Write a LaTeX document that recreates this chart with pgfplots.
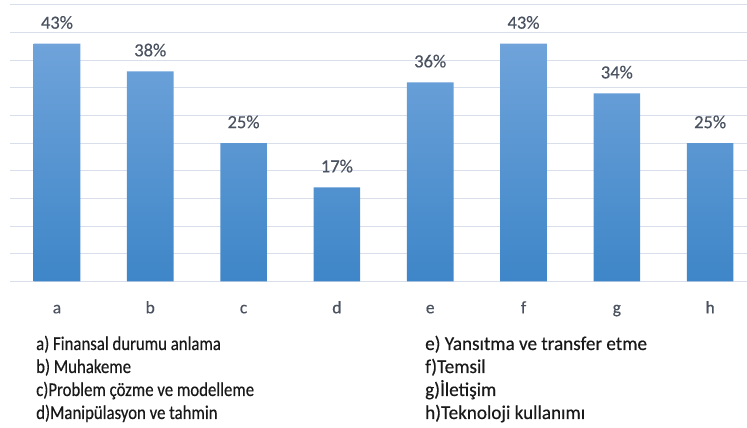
\documentclass[border=0pt]{standalone}
\usepackage{pgfplots}
\pgfplotsset{compat=1.18}
\usepackage{fontspec}
\setmainfont{Carlito}[FakeBold=0.3]
\newfontfamily\legfont[FakeStretch=0.86,FakeBold=0.4]{Carlito}
\newfontfamily\legfontr[FakeStretch=0.98,FakeBold=0.4]{Carlito}
\definecolor{gridc}{HTML}{D9DFEA}
\definecolor{bartop}{HTML}{6FA3DA}
\definecolor{barbot}{HTML}{3E86C8}
\definecolor{lblc}{HTML}{4A5260}
\definecolor{tickc}{HTML}{4A5260}
\begin{document}
\begin{tikzpicture}[x=1pt,y=1pt]
\useasboundingbox (0,0) rectangle (747,428);
\begin{axis}[
  at={(10.3pt,146.7pt)}, anchor=south west,
  scale only axis, width=736.7pt, height=276.3pt,
  xmin=-0.5, xmax=7.395, ymin=0, ymax=50,
  axis x line*=bottom, axis y line*=left,
  x axis line style={draw=gridc, line width=1pt, -},
  y axis line style={draw=none},
  ytick={0,5,...,50}, yticklabels={}, ymajorgrids, grid style={draw=gridc, line width=1pt},
  xtick={0,...,7}, xticklabels={a,b,c,d,e,f,g,h},
  major tick length=0pt,
  xticklabel style={font=\fontsize{17.5}{20}\selectfont, text=tickc, anchor=base, yshift=-32pt},
  /pgf/number format/assume math mode=true,
  clip=false,
]
\addplot[ybar, bar width=0.5, draw=none, top color=bartop, bottom color=barbot,
  nodes near coords={\pgfmathprintnumber{\pgfplotspointmeta}\%},
  every node near coord/.style={font=\fontsize{18.5}{20}\selectfont, text=lblc, anchor=base, inner sep=0pt, yshift=15pt}]
  coordinates {(0,43) (1,38) (2,25) (3,17) (4,36) (5,43) (6,34) (7,25)};
\end{axis}
\begin{scope}[every node/.style={anchor=base west, inner sep=0pt, font=\legfont\fontsize{19.5}{22}\selectfont, text=black!90}]
\node at (36,78) {a) Finansal durumu anlama};
\node at (36,55) {b) Muhakeme};
\node at (36,32) {c)Problem çözme ve modelleme};
\node at (36,9) {d)Manipülasyon ve tahmin};
\end{scope}
\begin{scope}[every node/.style={anchor=base west, inner sep=0pt, font=\legfontr\fontsize{19.5}{22}\selectfont, text=black!90}]
\node at (425,78) {e) Yansıtma ve transfer etme};
\node at (425,55) {f)Temsil};
\node at (425,32) {g)İletişim};
\node at (425,9) {h)Teknoloji kullanımı};
\end{scope}
\end{tikzpicture}
\end{document}
